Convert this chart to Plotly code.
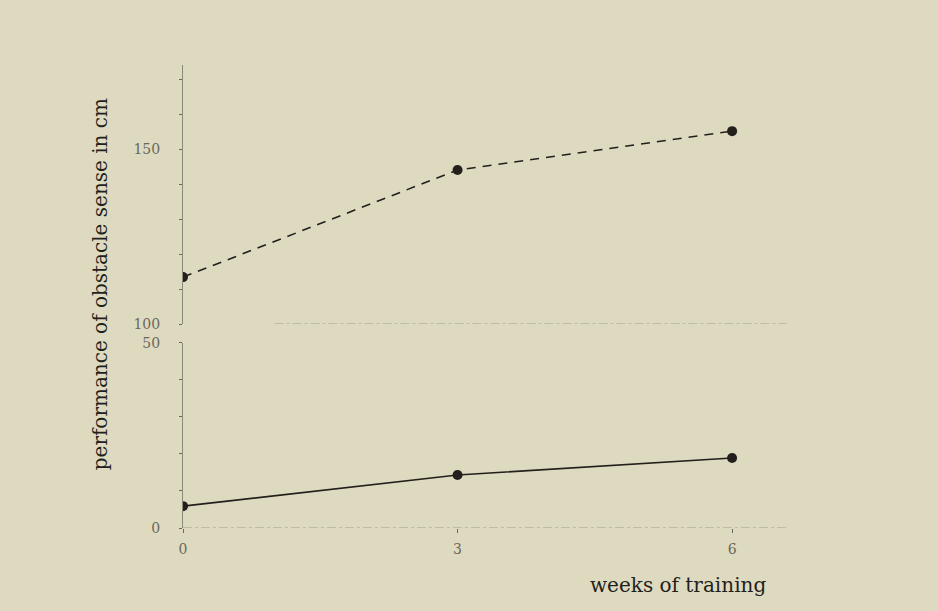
import plotly.graph_objects as go

# Data (broken y-axis: lower panel 0-50, upper panel 100+)
weeks = [0, 3, 6]
x_tick_vals = [0, 3, 6]
x_tick_text = ["0", "3", "6"]
upper_series = [113.4, 144.0, 155.1]   # dashed line (upper panel)
lower_series = [5.9, 14.3, 18.9]       # solid line (lower panel)
lower_ticks = [0, 50]
upper_ticks = [100, 150]

bg = "#dedabf"
ink = "#231f1c"
grey = "#6a675c"
font_family = "DejaVu Serif"

fig = go.Figure()

fig.add_trace(go.Scatter(
    x=weeks, y=upper_series, xaxis="x", yaxis="y2", mode="lines+markers",
    line=dict(color=ink, width=1.6, dash="9px,7px"),
    marker=dict(color=ink, size=10), showlegend=False, hoverinfo="skip"))

fig.add_trace(go.Scatter(
    x=weeks, y=lower_series, xaxis="x", yaxis="y", mode="lines+markers",
    line=dict(color=ink, width=1.6),
    marker=dict(color=ink, size=10), showlegend=False, hoverinfo="skip"))

# faint baseline and faint scan line at 100
fig.add_shape(type="line", xref="x", yref="y", x0=0, x1=6.6, y0=0, y1=0,
              line=dict(color="#b4b19e", width=1.3, dash="dashdot"), layer="below")
fig.add_shape(type="line", xref="x", yref="y2", x0=1.0, x1=6.6, y0=100, y1=100,
              line=dict(color="#b4b19e", width=1.3, dash="dashdot"), layer="below")

axis_font = dict(family=font_family, size=14, color=grey)

fig.update_layout(
    width=938, height=611,
    paper_bgcolor=bg, plot_bgcolor=bg,
    margin=dict(l=183, r=151, t=65, b=83),
    font=dict(family=font_family, color=ink),
    xaxis=dict(
        range=[0, 6.6], anchor="y", showgrid=False, zeroline=False, showline=False,
        tickmode="array", tickvals=x_tick_vals, ticktext=x_tick_text,
        ticks="outside", ticklen=4, tickcolor=grey, tickfont=axis_font,
        ticklabelstandoff=4),
    yaxis=dict(
        domain=[0, 0.40], range=[0, 50], anchor="x", showgrid=False, zeroline=False,
        showline=True, linecolor="#8c897b", linewidth=1,
        tickmode="array", tickvals=lower_ticks, ticks="outside", ticklen=3,
        tickcolor=grey, tickfont=axis_font, ticklabelstandoff=16,
        minor=dict(dtick=10, ticks="outside", ticklen=3, tickcolor=grey)),
    yaxis2=dict(
        domain=[0.4406, 1], range=[100, 174], anchor="x", showgrid=False, zeroline=False,
        showline=True, linecolor="#8c897b", linewidth=1,
        tickmode="array", tickvals=upper_ticks, ticks="outside", ticklen=3,
        tickcolor=grey, tickfont=axis_font, ticklabelstandoff=16,
        minor=dict(dtick=10, ticks="outside", ticklen=3, tickcolor=grey)),
    annotations=[
        dict(text="weeks of training", xref="paper", yref="paper",
             x=0.82, y=-0.123, xanchor="center", yanchor="middle", showarrow=False,
             font=dict(family=font_family, size=20, color=ink)),
        dict(text="performance of obstacle sense in cm", xref="paper", yref="paper",
             x=-0.137, y=0.527, xanchor="center", yanchor="middle", showarrow=False,
             textangle=-90, font=dict(family=font_family, size=20, color=ink)),
    ],
)

fig.write_html(
    "out.html",
    config={"displayModeBar": False, "staticPlot": True},
    post_script="document.body.style.margin='0';document.body.style.background='%s';"
                "document.body.style.overflow='hidden';" % bg,
)
